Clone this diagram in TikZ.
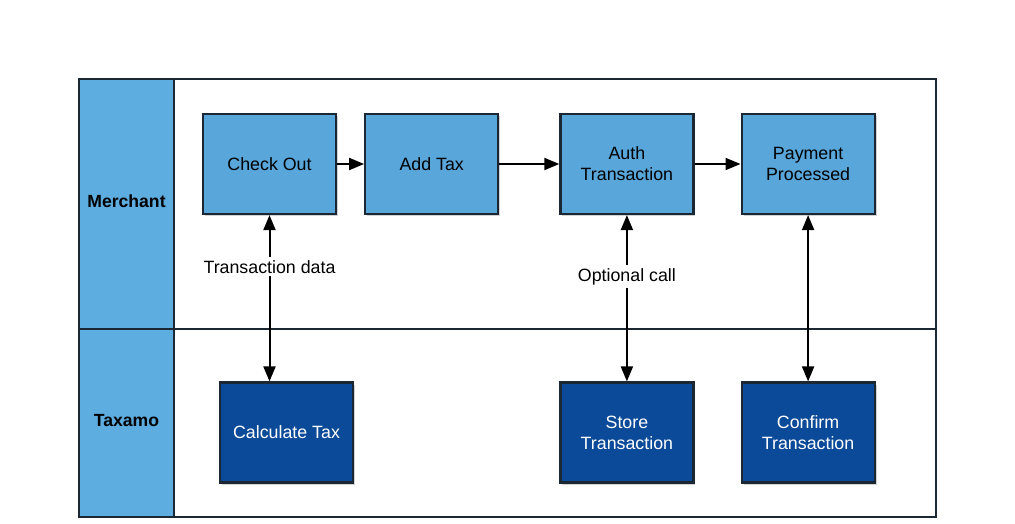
\documentclass[tikz,border=0pt]{standalone}
\usepackage{fontspec}
\setmainfont{Liberation Sans}
\usetikzlibrary{arrows.meta, positioning, shadows}

\definecolor{laneblue}{HTML}{5DADE0}
\definecolor{stepblue}{HTML}{58A6DA}
\definecolor{taxblue}{HTML}{0B4A98}
\definecolor{frameline}{HTML}{1B2833}

\begin{document}
\begin{tikzpicture}[
    x=1pt, y=-1pt,
    node distance=27pt,
    lane/.style={draw=frameline, line width=2pt},
    header/.style={lane, fill=laneblue},
    lanetitle/.style={font=\fontsize{17.6}{21}\selectfont\bfseries},
    merchantstep/.style={rectangle, minimum width=133pt, minimum height=100pt, draw=frameline, line width=2.2pt, fill=stepblue, text centered, align=center, font=\fontsize{17.8}{21}\selectfont, drop shadow={opacity=0.35, shadow xshift=2pt, shadow yshift=-2pt}},
    taxamostep/.style={merchantstep, fill=taxblue, text=white},
    arrow/.style={-{Triangle[length=15pt, width=12pt]}, line width=2pt},
    biarrow/.style={{Triangle[length=15pt, width=12pt]}-{Triangle[length=15pt, width=12pt]}, line width=2pt},
    flowlabel/.style={fill=white, inner sep=3pt, font=\fontsize{17.8}{21}\selectfont}
]
\useasboundingbox (0,0) rectangle (1015,524);

% === LANES ===
\draw [lane] (79,79) rectangle (936,517);
\draw [header] (79,79) rectangle (174,329);
\draw [header] (79,329) rectangle (174,517);
\draw [lane] (174,329) -- (936,329);
\node (merchant) [lanetitle] at (126.5,201) {Merchant};
\node (taxamo) [lanetitle] at (126.5,421) {Taxamo};

% === MERCHANT STEPS ===
\node (checkout) [merchantstep] at (269.5,164) {Check Out};
\node (addtax) [merchantstep, right=of checkout] {Add Tax};
\node (auth) [merchantstep, right=60pt of addtax] {Auth\\Transaction};
\node (payment) [merchantstep, right=46pt of auth] {Payment\\Processed};

% === TAXAMO STEPS ===
\node (calctax) [taxamostep] at (286.5,432.5) {Calculate Tax};
\node (store) [taxamostep] at (auth |- calctax) {Store\\Transaction};
\node (confirm) [taxamostep] at (payment |- calctax) {Confirm\\Transaction};

% === ARROWS ===
\draw [arrow] (checkout) -- (addtax);
\draw [arrow] (addtax) -- (auth);
\draw [arrow] (auth) -- (payment);

\draw [biarrow] (checkout.south) -- node[flowlabel, pos=0.31] {Transaction data} (checkout.south |- calctax.north);
\draw [biarrow] (auth) -- node[flowlabel, pos=0.37] {Optional call} (store);
\draw [biarrow] (payment) -- (confirm);

\end{tikzpicture}
\end{document}
